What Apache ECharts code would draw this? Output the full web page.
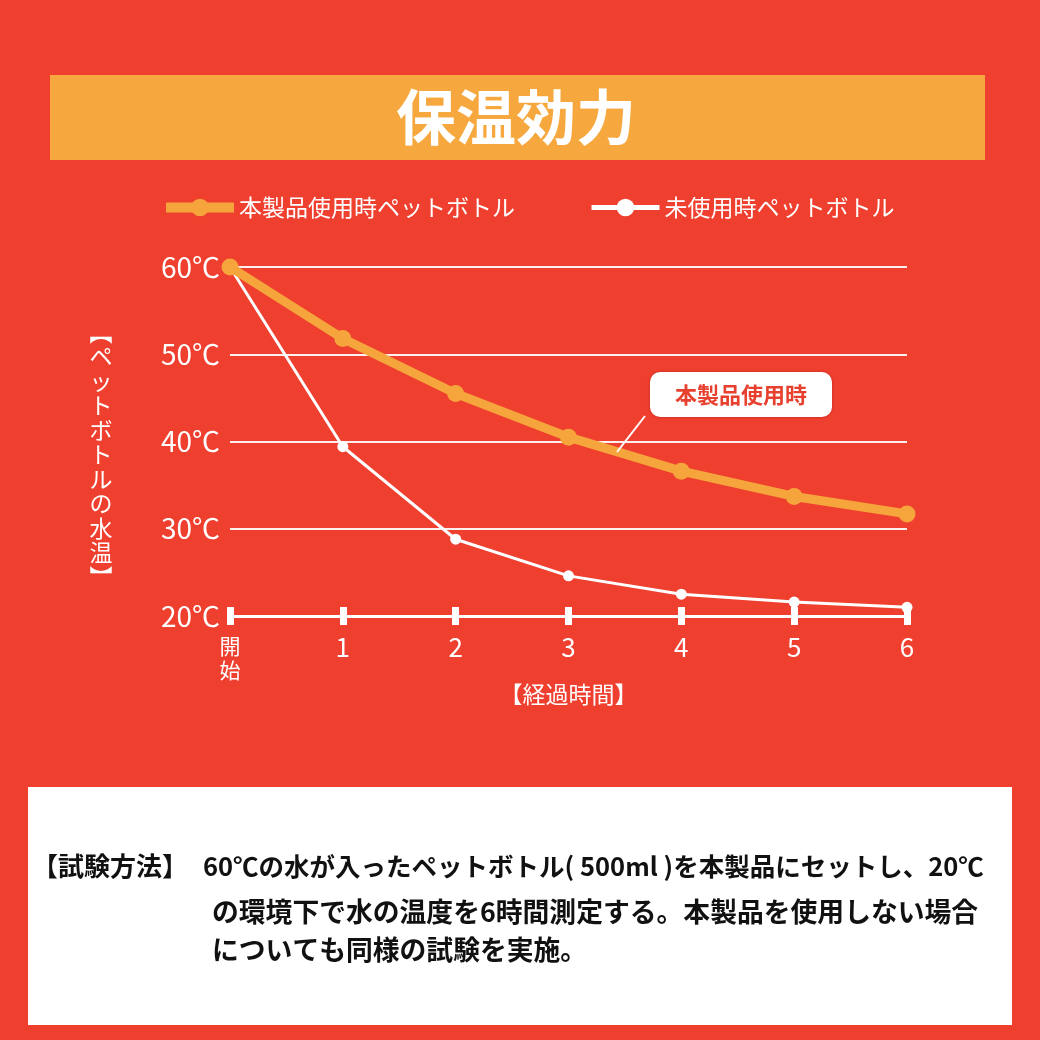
<!DOCTYPE html>
<html><head><meta charset="utf-8">
<script src="https://cdn.jsdelivr.net/npm/echarts@6/dist/echarts.min.js"></script>
<style>html,body{margin:0;padding:0;background:#EF3F2F;}#c{width:1040px;height:1040px;}</style>
</head><body><div id="c"></div>
<script>
const categories = ['開始', '1', '2', '3', '4', '5', '6'];
const withProduct = [60, 51.8, 45.5, 40.5, 36.6, 33.7, 31.7];
const withoutProduct = [60, 39.4, 28.8, 24.6, 22.5, 21.6, 21.0];
const seriesNames = ['本製品使用時ペットボトル', '未使用時ペットボトル'];
const yTicks = [20, 30, 40, 50, 60];

const FONT = '"Noto Sans CJK JP", "Noto Sans", sans-serif';
const BG = '#EF3F2F';
const ORANGE = '#F5A53B';

const chart = echarts.init(document.getElementById('c'), null, {renderer: 'canvas'});
chart.setOption({
  backgroundColor: BG,
  textStyle: {fontFamily: FONT},
  animation: false,
  legend: {
    left: 156, top: 191,
    itemWidth: 68, itemHeight: 22, itemGap: 74,
    textStyle: {color: '#fff', fontSize: 23, fontFamily: FONT, padding: [0, 0, 0, 0]},
    data: [
      {name: seriesNames[0], lineStyle: {width: 10, color: ORANGE}},
      {name: seriesNames[1], lineStyle: {width: 5, color: '#fff'}}
    ]
  },
  grid: {left: 230, right: 133, top: 267, bottom: 424, containLabel: false},
  xAxis: [{
    type: 'category', data: categories, boundaryGap: false,
    axisLine: {lineStyle: {color: '#fff', width: 3}},
    axisTick: {show: true, length: 9, lineStyle: {color: '#fff', width: 7}, alignWithLabel: true},
    axisLabel: {
      color: '#fff', fontSize: 26, margin: 18, verticalAlign: 'top', lineHeight: 26,
      formatter: v => v.length > 1 ? '{s|' + v.split('').join('\n') + '}' : v,
      rich: {s: {fontSize: 21, lineHeight: 24, color: '#fff', fontFamily: FONT}},
      fontFamily: FONT
    },
    name: '【経過時間】', nameLocation: 'middle', nameGap: 60,
    nameTextStyle: {color: '#fff', fontSize: 23, fontFamily: FONT}
  }, {
    type: 'category', data: categories, boundaryGap: false, position: 'bottom', offset: 0,
    axisLine: {show: false},
    axisTick: {show: true, inside: true, length: 9, lineStyle: {color: '#fff', width: 7}},
    axisLabel: {show: false}
  }],
  yAxis: {
    type: 'value', min: yTicks[0], max: yTicks[yTicks.length - 1], interval: 10,
    axisLine: {show: false}, axisTick: {show: false},
    axisLabel: {color: '#fff', fontSize: 28, margin: 10, formatter: '{value}℃', fontFamily: FONT},
    splitLine: {lineStyle: {color: 'rgba(255,255,255,0.92)', width: 2}}
  },
  series: [{
    name: seriesNames[1], type: 'line', data: withoutProduct,
    symbol: 'circle', symbolSize: 11, showAllSymbol: true,
    lineStyle: {color: '#fff', width: 3}, itemStyle: {color: '#fff'}, z: 3
  }, {
    name: seriesNames[0], type: 'line', data: withProduct,
    symbol: 'circle', symbolSize: 17, showAllSymbol: true,
    lineStyle: {color: ORANGE, width: 9}, itemStyle: {color: ORANGE}, z: 4
  }],
  graphic: [
    {type: 'rect', shape: {x: 50, y: 75, width: 935, height: 85}, style: {fill: '#F6A83F'}},
    {type: 'text', x: 516, y: 117, style: {text: '保温効力', fill: '#fff', font: 'bold 60px ' + FONT, textAlign: 'center', textVerticalAlign: 'middle'}},
    {type: 'text', x: 101, y: 320, style: {text: '︻ペットボトルの水温︼'.split('').join('\n'), fill: '#fff', font: '23px ' + FONT, lineHeight: 24.5, textAlign: 'center', textVerticalAlign: 'top'}},
    {type: 'line', shape: {x1: 645, y1: 416, x2: 617, y2: 452}, style: {stroke: '#fff', lineWidth: 2}, z: 10},
    {type: 'rect', shape: {x: 650, y: 372, width: 182, height: 45, r: 10}, style: {fill: '#fff', shadowBlur: 3, shadowColor: 'rgba(120,0,0,0.4)'}, z: 10},
    {type: 'text', x: 741, y: 395, style: {text: '本製品使用時', fill: '#E8402F', font: 'bold 22px ' + FONT, textAlign: 'center', textVerticalAlign: 'middle'}, z: 11},
    {type: 'rect', shape: {x: 28, y: 787, width: 984, height: 238}, style: {fill: '#fff'}},
    {type: 'text', x: 32, y: 866, style: {text: '【試験方法】', fill: '#111', font: 'bold 26px ' + FONT, textVerticalAlign: 'middle'}},
    {type: 'text', x: 203, y: 866, style: {text: '60℃の水が入ったペットボトル( 500ml )を本製品にセットし、20℃', fill: '#111', font: 'bold 25.5px ' + FONT, textVerticalAlign: 'middle'}},
    {type: 'text', x: 212, y: 912, style: {text: 'の環境下で水の温度を6時間測定する。本製品を使用しない場合', fill: '#111', font: 'bold 26.8px ' + FONT, textVerticalAlign: 'middle'}},
    {type: 'text', x: 212, y: 950, style: {text: 'についても同様の試験を実施。', fill: '#111', font: 'bold 26.8px ' + FONT, textVerticalAlign: 'middle'}}
  ]
});
</script></body></html>
